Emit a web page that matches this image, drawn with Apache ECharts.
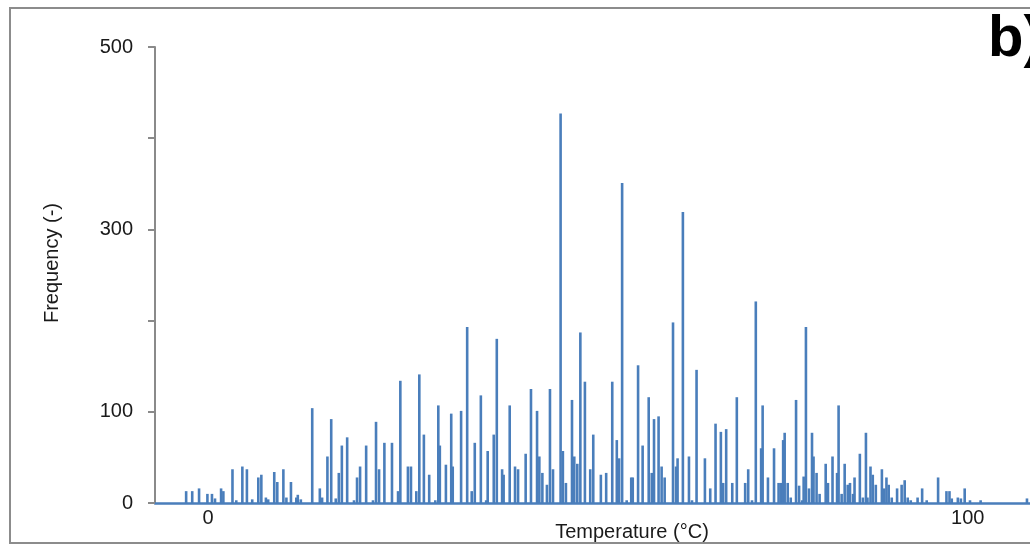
<!DOCTYPE html>
<html>
<head>
<meta charset="utf-8">
<script src="https://cdn.jsdelivr.net/npm/echarts@6/dist/echarts.min.js"></script>
<style>
html,body{margin:0;padding:0;background:#fff;}
#chart{width:1030px;height:546px;}
</style>
</head>
<body>
<div id="chart"></div>
<script>
// Temperature bins (°C) and their frequencies
const temperatures = [
  -2.9,-2.1,-1.2,-0.1,0.5,0.9,1.7,2.0,3.2,3.7,4.5,5.1,5.8,6.6,7.0,7.6,7.9,8.7,9.1,9.9,
  10.3,10.9,11.6,11.8,12.2,13.7,14.7,15.0,15.7,16.2,16.8,17.2,17.6,18.3,19.2,19.6,20.0,20.8,21.7,22.1,
  22.5,23.2,24.2,25.0,25.3,26.3,26.7,27.4,27.8,28.4,29.1,29.9,30.3,30.5,31.3,32.0,32.2,33.3,34.1,34.7,
  35.1,35.9,36.6,36.8,37.6,38.0,38.7,38.9,39.7,40.4,40.8,41.8,42.5,43.3,43.6,44.0,44.6,45.0,45.4,46.4,
  46.7,47.1,47.9,48.2,48.6,49.0,49.6,50.3,50.7,51.7,52.4,53.2,53.8,54.1,54.5,55.1,55.7,55.9,56.6,57.2,
  58.0,58.4,58.7,59.3,59.7,60.1,61.2,61.6,61.8,62.5,63.3,63.7,64.3,65.4,66.1,66.8,67.5,67.8,68.2,69.0,
  69.6,70.7,71.1,71.6,72.1,72.8,73.0,73.7,74.5,75.1,75.4,75.7,75.9,76.3,76.7,77.4,77.8,78.2,78.4,78.7,
  79.1,79.5,79.7,80.1,80.5,81.3,81.6,82.2,82.8,83.0,83.4,83.8,84.2,84.5,84.9,85.1,85.8,86.2,86.6,86.8,
  87.2,87.5,87.9,88.7,89.0,89.3,89.6,90.0,90.7,91.3,91.7,92.1,92.5,93.4,94.0,94.6,96.1,97.2,97.6,97.9,
  98.7,99.1,99.6,100.3,101.7,107.8
];
const frequencies = [
  13,13,16,10,10,5,16,13,37,3,40,37,4,28,31,6,4,34,23,37,
  6,23,6,9,4,104,16,6,51,92,5,33,63,72,3,28,40,63,3,89,
  37,66,66,13,134,40,40,13,141,75,31,3,107,63,42,98,40,101,193,13,
  66,118,3,57,75,180,37,31,107,40,37,54,125,101,51,33,20,125,37,427,
  57,22,113,51,43,187,133,37,75,31,33,133,69,49,351,3,28,28,151,63,
  116,33,92,95,40,28,198,40,49,319,51,3,146,49,16,87,78,22,81,22,
  116,22,37,3,221,60,107,28,60,22,22,69,77,22,6,113,19,3,29,193,
  16,77,51,33,10,43,22,51,33,107,10,43,20,22,10,28,54,6,77,6,
  40,31,20,37,16,28,20,6,16,20,25,6,3,6,16,3,28,13,13,5,
  6,5,16,3,3,5
];
const xTickLabels = [0, 100];
const yShownLabels = [0, 100, 300, 500];
const xAxisTitle = 'Temperature (°C)';
const yAxisTitle = 'Frequency (-)';
const panelLabel = 'b)';

const seriesData = temperatures.map((t, i) => [t, frequencies[i]]);

const chart = echarts.init(document.getElementById('chart'), null, {renderer: 'canvas'});
const FONT = '"Liberation Sans", Arial, sans-serif';
chart.setOption({
  animation: false,
  backgroundColor: '#ffffff',
  grid: {left: 155, right: 0, top: 47, bottom: 43, containLabel: false},
  xAxis: {
    type: 'value',
    min: -7,
    max: 108.2,
    splitLine: {show: false},
    axisLine: {show: true, onZero: false, lineStyle: {color: '#4a7ebb', width: 2.5}},
    axisTick: {show: false},
    axisLabel: {
      customValues: xTickLabels,
      fontFamily: FONT, fontSize: 20, color: '#1a1a1a', margin: 5
    }
  },
  yAxis: {
    type: 'value',
    min: 0,
    max: 500,
    interval: 100,
    splitLine: {show: false},
    axisLine: {show: true, onZero: false, lineStyle: {color: '#8a8a8a', width: 2}},
    axisTick: {show: true, inside: false, length: 7, lineStyle: {color: '#8a8a8a', width: 2}},
    axisLabel: {
      fontFamily: FONT, fontSize: 20, color: '#1a1a1a', margin: 22,
      formatter: v => (yShownLabels.indexOf(v) >= 0 ? String(v) : '')
    }
  },
  series: [{
    type: 'bar',
    data: seriesData,
    barWidth: 2.6,
    itemStyle: {color: '#4a7ebb'},
    z: 3
  }],
  graphic: [
    {type: 'rect', shape: {x: 10, y: 8, width: 1040, height: 535},
     style: {fill: 'none', stroke: '#8c8c8c', lineWidth: 2}, z: 0},
    {type: 'text', x: 632, y: 532,
     style: {text: xAxisTitle, font: '20px ' + FONT, fill: '#1a1a1a', textAlign: 'center', textVerticalAlign: 'middle'}},
    {type: 'text', x: 52, y: 263, rotation: Math.PI / 2,
     style: {text: yAxisTitle, font: '20px ' + FONT, fill: '#1a1a1a', textAlign: 'center', textVerticalAlign: 'middle'}},
    {type: 'text', x: 988, y: 40,
     style: {text: panelLabel, font: 'bold 58px ' + FONT, fill: '#000000', textAlign: 'left', textVerticalAlign: 'middle'}}
  ]
});
</script>
</body>
</html>
